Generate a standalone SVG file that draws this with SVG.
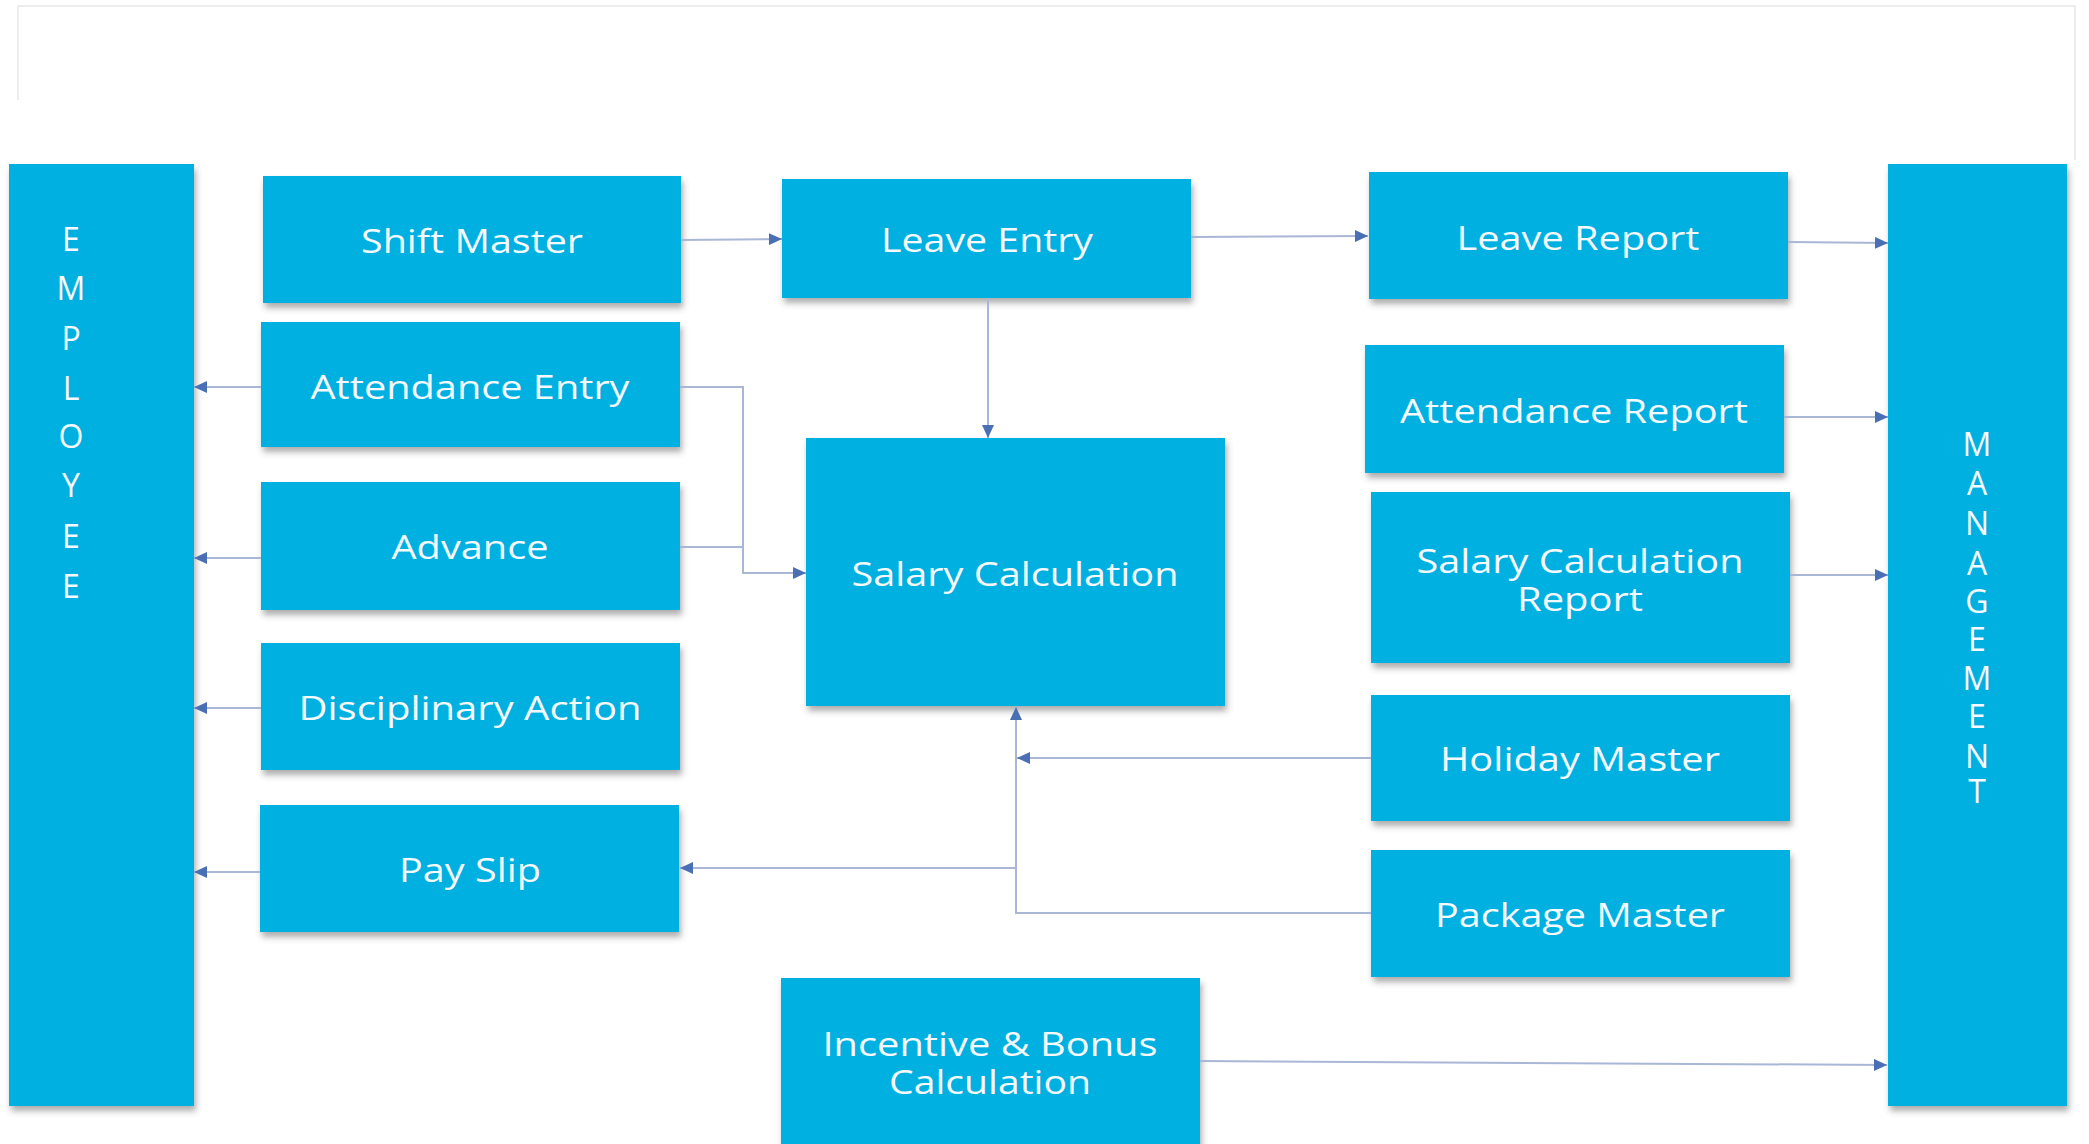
<svg xmlns="http://www.w3.org/2000/svg" width="2089" height="1144" viewBox="0 0 2089 1144">
<defs>
<filter id="sh" x="-10%" y="-10%" width="120%" height="125%">
<feDropShadow dx="2" dy="5" stdDeviation="3" flood-color="#4a4a4a" flood-opacity="0.45"/>
</filter>
<marker id="ah" markerUnits="userSpaceOnUse" markerWidth="14" markerHeight="12" refX="13" refY="6" orient="auto">
<path d="M0,0 L13,6 L0,12 Z" fill="#4a6fb5"/>
</marker>
</defs>
<style>
.box{fill:#03b0e0;filter:url(#sh)}
.t{font-family:"Open Sans","Noto Sans",sans-serif;font-size:32px;fill:#f4faff;text-anchor:middle;dominant-baseline:central}
.v{font-family:"Open Sans","Noto Sans",sans-serif;font-size:32px;fill:#f4faff;text-anchor:middle;dominant-baseline:central}
.c{fill:none;stroke:#a9b6d6;stroke-width:2}
.ca{fill:none;stroke:#a9b6d6;stroke-width:2;marker-end:url(#ah)}
.frame{fill:none;stroke:#e6e6e6;stroke-width:1.5}
</style>
<rect x="0" y="0" width="2089" height="1144" fill="#ffffff"/>
<path class="frame" d="M18,100 L18,6 L2075,6 L2075,160"/>

<g id="employee">
<rect class="box" x="9" y="164" width="185" height="942"/>
<text class="v"><tspan x="71" y="238">E</tspan><tspan x="71" y="287">M</tspan><tspan x="71" y="337">P</tspan><tspan x="71" y="387">L</tspan><tspan x="71" y="435">O</tspan><tspan x="71" y="484">Y</tspan><tspan x="71" y="535">E</tspan><tspan x="71" y="585">E</tspan></text>
</g>
<g id="management">
<rect class="box" x="1888" y="164" width="179" height="942"/>
<text class="v"><tspan x="1977" y="443">M</tspan><tspan x="1977" y="482">A</tspan><tspan x="1977" y="522">N</tspan><tspan x="1977" y="562">A</tspan><tspan x="1977" y="600">G</tspan><tspan x="1977" y="638">E</tspan><tspan x="1977" y="677">M</tspan><tspan x="1977" y="715">E</tspan><tspan x="1977" y="755">N</tspan><tspan x="1977" y="790">T</tspan></text>
</g>
<g id="shift-master">
<rect class="box" x="263" y="176" width="418" height="127"/>
<text class="t" x="472" y="240" textLength="222" lengthAdjust="spacingAndGlyphs">Shift Master</text>
</g>
<g id="attendance-entry">
<rect class="box" x="261" y="322" width="419" height="125"/>
<text class="t" x="470" y="386" textLength="319" lengthAdjust="spacingAndGlyphs">Attendance Entry</text>
</g>
<g id="advance">
<rect class="box" x="261" y="482" width="419" height="128"/>
<text class="t" x="470" y="546" textLength="157" lengthAdjust="spacingAndGlyphs">Advance</text>
</g>
<g id="disciplinary-action">
<rect class="box" x="261" y="643" width="419" height="127"/>
<text class="t" x="470" y="707" textLength="343" lengthAdjust="spacingAndGlyphs">Disciplinary Action</text>
</g>
<g id="pay-slip">
<rect class="box" x="260" y="805" width="419" height="127"/>
<text class="t" x="470" y="869" textLength="142" lengthAdjust="spacingAndGlyphs">Pay Slip</text>
</g>
<g id="leave-entry">
<rect class="box" x="782" y="179" width="409" height="119"/>
<text class="t" x="987" y="239" textLength="212" lengthAdjust="spacingAndGlyphs">Leave Entry</text>
</g>
<g id="salary-calculation">
<rect class="box" x="806" y="438" width="419" height="268"/>
<text class="t" x="1015" y="573" textLength="327" lengthAdjust="spacingAndGlyphs">Salary Calculation</text>
</g>
<g id="incentive-bonus">
<rect class="box" x="781" y="978" width="419" height="166"/>
<text class="t"><tspan x="990" y="1043" textLength="335" lengthAdjust="spacingAndGlyphs">Incentive &amp; Bonus</tspan><tspan x="990" y="1081" textLength="202" lengthAdjust="spacingAndGlyphs">Calculation</tspan></text>
</g>
<g id="leave-report">
<rect class="box" x="1369" y="172" width="419" height="127"/>
<text class="t" x="1578" y="237" textLength="243" lengthAdjust="spacingAndGlyphs">Leave Report</text>
</g>
<g id="attendance-report">
<rect class="box" x="1365" y="345" width="419" height="128"/>
<text class="t" x="1574" y="410" textLength="348" lengthAdjust="spacingAndGlyphs">Attendance Report</text>
</g>
<g id="salary-calculation-report">
<rect class="box" x="1371" y="492" width="419" height="171"/>
<text class="t"><tspan x="1580" y="560" textLength="327" lengthAdjust="spacingAndGlyphs">Salary Calculation</tspan><tspan x="1580" y="598" textLength="126" lengthAdjust="spacingAndGlyphs">Report</tspan></text>
</g>
<g id="holiday-master">
<rect class="box" x="1371" y="695" width="419" height="126"/>
<text class="t" x="1580" y="758" textLength="280" lengthAdjust="spacingAndGlyphs">Holiday Master</text>
</g>
<g id="package-master">
<rect class="box" x="1371" y="850" width="419" height="127"/>
<text class="t" x="1580" y="914" textLength="290" lengthAdjust="spacingAndGlyphs">Package Master</text>
</g>

<g id="connectors">
<path class="ca" d="M681,240 L782,239"/>
<path class="ca" d="M1191,237 L1368,236"/>
<path class="ca" d="M1788,242 L1888,243"/>
<path class="ca" d="M1784,417 L1888,417"/>
<path class="ca" d="M1790,575 L1888,575"/>
<path class="ca" d="M1200,1061 L1887,1065"/>
<path class="ca" d="M988,298 L988,438"/>
<path class="ca" d="M680,387 L743,387 L743,573 L806,573"/>
<path class="c" d="M680,547 L743,547"/>
<path class="ca" d="M261,387 L194,387"/>
<path class="ca" d="M261,558 L194,558"/>
<path class="ca" d="M261,708 L194,708"/>
<path class="ca" d="M260,872 L194,872"/>
<path class="ca" d="M1371,913 L1016,913 L1016,707"/>
<path class="ca" d="M1371,758 L1017,758"/>
<path class="ca" d="M1016,868 L680,868"/>
</g>
</svg>
